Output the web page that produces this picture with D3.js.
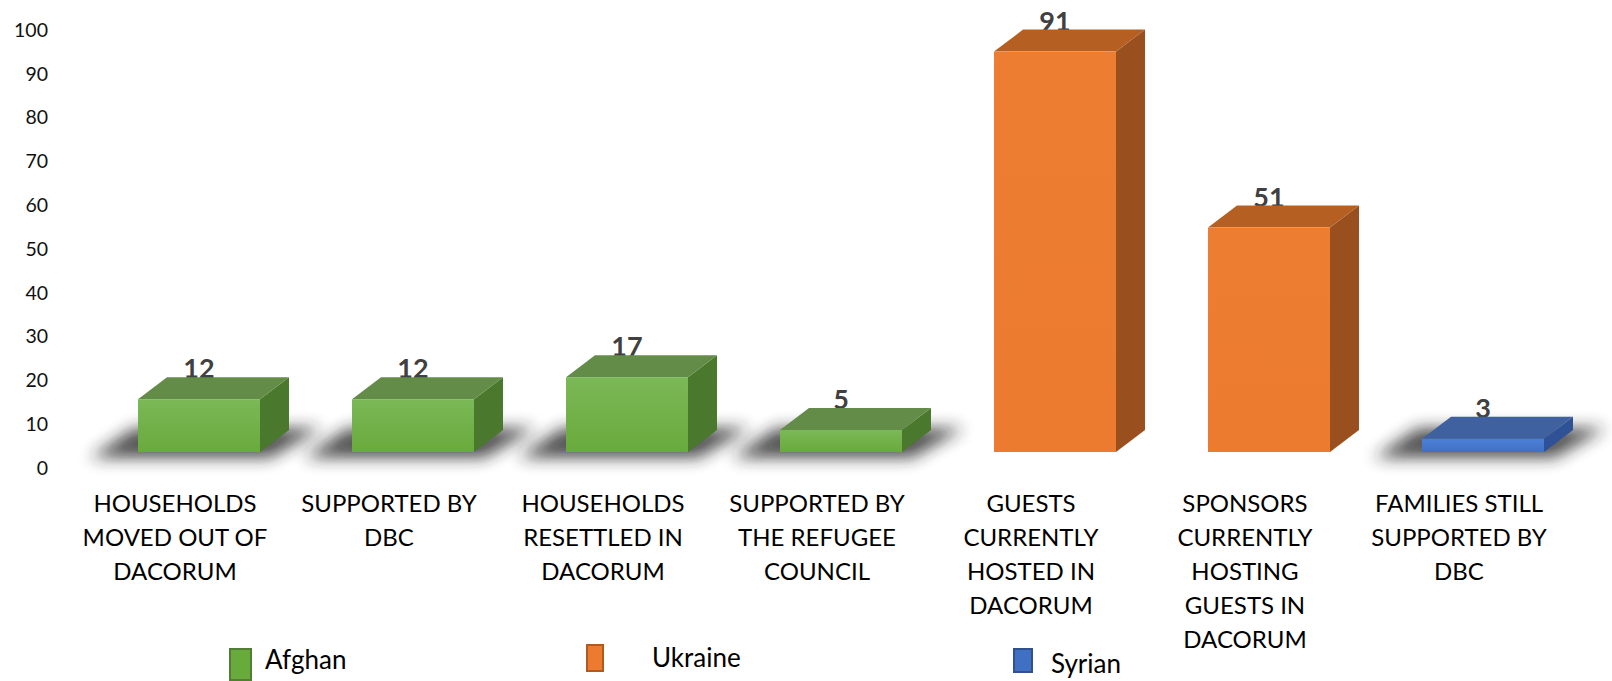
<!DOCTYPE html>
<html>
<head>
<meta charset="utf-8">
<script src="https://cdn.jsdelivr.net/npm/d3@7"></script>
<style>
  html, body { margin: 0; padding: 0; background: #fff; }
  svg { display: block; font-family: Lato, "Open Sans", sans-serif; }
</style>
</head>
<body>
<div id="chart"></div>
<script>
// Data
const categories = [
    ["HOUSEHOLDS", "MOVED OUT OF", "DACORUM"],
    ["SUPPORTED BY", "DBC"],
    ["HOUSEHOLDS", "RESETTLED IN", "DACORUM"],
    ["SUPPORTED BY", "THE REFUGEE", "COUNCIL"],
    ["GUESTS", "CURRENTLY", "HOSTED IN", "DACORUM"],
    ["SPONSORS", "CURRENTLY", "HOSTING", "GUESTS IN", "DACORUM"],
    ["FAMILIES STILL", "SUPPORTED BY", "DBC"]
];
const barSeries = ["Afghan", "Afghan", "Afghan", "Afghan", "Ukraine", "Ukraine", "Syrian"];
const values = [12, 12, 17, 5, 91, 51, 3];
const seriesNames = ["Afghan", "Ukraine", "Syrian"];
const yTicks = [0, 10, 20, 30, 40, 50, 60, 70, 80, 90, 100];

// Styles per series
const palette = {
    Afghan:  { front: ["#7bb857", "#69aa3c"], top: "#628c47", side: "#4a782d", stroke: "#507e32", shadow: true },
    Ukraine: { front: ["#ed7d31", "#ec7b2f"], top: "#b65f23", side: "#99501e", stroke: "#ae5a21", shadow: false },
    Syrian:  { front: ["#4c80d8", "#3f70c4"], top: "#40619f", side: "#2f5196", stroke: "#2f528f", shadow: true }
};

const width = 1612;
const height = 681;
const depthX = 29;   // 3D offset of the back face
const depthY = 22;

const svg = d3.select("#chart")
    .append("svg")
    .attr("width", width)
    .attr("height", height)
    .attr("viewBox", `0 0 ${width} ${height}`);

const defs = svg.append("defs");
defs.append("filter")
    .attr("id", "blur")
    .attr("x", "-50%").attr("y", "-200%")
    .attr("width", "200%").attr("height", "500%")
    .append("feGaussianBlur")
    .attr("stdDeviation", 8);

seriesNames.forEach(s => {
    const g = defs.append("linearGradient")
        .attr("id", `front-${s}`)
        .attr("x1", 0).attr("y1", 0).attr("x2", 0).attr("y2", 1);
    g.append("stop").attr("offset", "0%").attr("stop-color", palette[s].front[0]);
    g.append("stop").attr("offset", "100%").attr("stop-color", palette[s].front[1]);
});

// Scales
const x = d3.scaleBand()
    .domain(d3.range(categories.length))
    .range([92, 1590])
    .paddingInner(0.43)
    .paddingOuter(0.215);

// axis labels sit on the back wall, bars on the front of the floor
const y = d3.scaleLinear().domain([0, 100]).range([468, 30]);
const yBar = y.copy().range([452, 12]);

// Y axis (labels only)
const yAxis = svg.append("g")
    .attr("transform", "translate(48,0)")
    .call(d3.axisLeft(y).tickValues(yTicks).tickSize(0).tickPadding(0));
yAxis.select(".domain").remove();
yAxis.selectAll("text")
    .attr("font-family", "Lato, sans-serif")
    .attr("font-size", 19.5)
    .attr("fill", "#111");

// Shadows under the flat bars
const shadowGroup = svg.append("g").attr("class", "shadows");
values.forEach((v, i) => {
    const s = barSeries[i];
    if (!palette[s].shadow) return;
    const x0 = x(i), x1 = x(i) + x.bandwidth();
    const yb = yBar(0);
    shadowGroup.append("polygon")
        .attr("points", [
            [x0 - 48, yb + 6], [x1 + 10, yb + 6],
            [x1 + 62, yb - 24], [x0 - 4, yb - 24]
        ].map(p => p.join(",")).join(" "))
        .attr("fill", "#222")
        .attr("opacity", 0.78)
        .attr("filter", "url(#blur)");
});

// Value labels (drawn before bars, top face slightly covers them)
svg.append("g")
    .selectAll("text")
    .data(values)
    .join("text")
    .attr("x", (d, i) => x(i) + x.bandwidth() / 2)
    .attr("y", d => yBar(d) - depthY + 1)
    .attr("text-anchor", "middle")
    .attr("font-family", "Lato, sans-serif")
    .attr("font-weight", "bold")
    .attr("font-size", 27)
    .attr("fill", "#404040")
    .text(d => d);

// Bars
const bars = svg.append("g")
    .selectAll("g")
    .data(values)
    .join("g")
    .attr("class", "bar");

bars.each(function (v, i) {
    const g = d3.select(this);
    const s = barSeries[i];
    const c = palette[s];
    const x0 = x(i), x1 = x(i) + x.bandwidth();
    const yt = yBar(v), yb = yBar(0);

    g.append("polygon")
        .attr("points", [[x1, yt], [x1 + depthX, yt - depthY], [x1 + depthX, yb - depthY], [x1, yb]]
            .map(p => p.join(",")).join(" "))
        .attr("fill", c.side);

    g.append("polygon")
        .attr("points", [[x0, yt], [x1, yt], [x1 + depthX, yt - depthY], [x0 + depthX, yt - depthY]]
            .map(p => p.join(",")).join(" "))
        .attr("fill", c.top);

    g.append("rect")
        .attr("x", x0)
        .attr("y", yt)
        .attr("width", x.bandwidth())
        .attr("height", yb - yt)
        .attr("fill", `url(#front-${s})`);
});

// Category labels
const labelGroup = svg.append("g");
categories.forEach((lines, i) => {
    const t = labelGroup.append("text")
        .attr("text-anchor", "middle")
        .attr("font-family", "Lato, sans-serif")
        .attr("font-size", 24)
        .attr("fill", "#000");
    lines.forEach((line, j) => {
        t.append("tspan")
            .attr("x", x(i) + x.bandwidth() / 2 - 24)
            .attr("y", 512 + j * 34)
            .text(line);
    });
});

// Legend (items are irregularly sized in the original)
const legendLayout = [
    { x: 229, y: 648, w: 23, h: 33, tx: 265, ty: 669 },
    { x: 586, y: 644, w: 18, h: 28, tx: 652, ty: 667 },
    { x: 1013, y: 648, w: 20, h: 25, tx: 1051, ty: 673 }
];
const legend = svg.append("g")
    .selectAll("g")
    .data(seriesNames)
    .join("g");

legend.append("rect")
    .attr("x", (d, i) => legendLayout[i].x + 1)
    .attr("y", (d, i) => legendLayout[i].y + 1)
    .attr("width", (d, i) => legendLayout[i].w - 2)
    .attr("height", (d, i) => legendLayout[i].h - 2)
    .attr("fill", d => palette[d].front[1])
    .attr("stroke", d => palette[d].stroke)
    .attr("stroke-width", 2);

legend.append("text")
    .attr("x", (d, i) => legendLayout[i].tx)
    .attr("y", (d, i) => legendLayout[i].ty)
    .attr("font-family", "Lato, sans-serif")
    .attr("font-size", 26)
    .attr("fill", "#000")
    .text(d => d);
</script>
</body>
</html>
